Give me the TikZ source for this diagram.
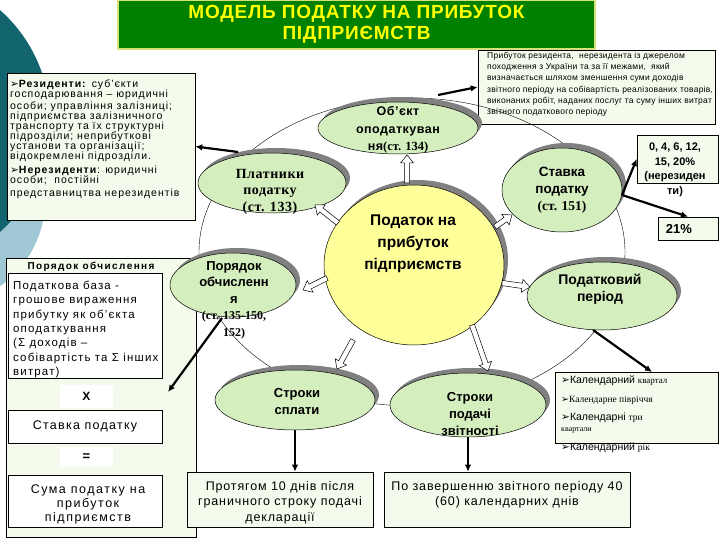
\documentclass[tikz,border=0pt]{standalone}
\usepackage{fontspec}
\setmainfont{Liberation Sans}
\newfontfamily\serif{Liberation Serif}
\newfontfamily\symf{DejaVu Sans}
\usetikzlibrary{shapes.geometric,shadows,calc,arrows.meta}
\definecolor{ellg}{RGB}{212,238,190}
\definecolor{mainy}{RGB}{255,255,153}
\definecolor{boxfill}{RGB}{244,250,236}
\definecolor{titlegreen}{RGB}{0,128,0}
\definecolor{titleborder}{RGB}{215,225,120}
\definecolor{titleyellow}{RGB}{255,255,0}
\definecolor{bgteal}{RGB}{18,100,110}
\definecolor{bglight}{RGB}{160,200,212}
\definecolor{shadowgray}{RGB}{128,128,128}
\newcommand\tickbul{{\symf ➢}}
\newcommand\lsp[1]{\addfontfeature{LetterSpace=#1}}
\newcommand\blockarrow[2]{%
  \coordinate (bap) at ($(#2)!8pt!(#1)$);
  \filldraw[barr] ($(#1)!2.6pt!90:(#2)$) -- ($(bap)!2.6pt!-90:(#1)$) -- ($(bap)!6.5pt!-90:(#1)$) -- (#2) -- ($(bap)!6.5pt!90:(#1)$) -- ($(bap)!2.6pt!90:(#1)$) -- ($(#1)!2.6pt!-90:(#2)$) -- cycle;}
\tikzset{
  ell/.style={ellipse, draw, fill=ellg, inner sep=0, line width=0.5pt,
    drop shadow={shadow xshift=4pt, shadow yshift=5pt, fill=shadowgray, opacity=1}},
  box/.style={draw, fill=boxfill, inner sep=0, line width=0.6pt},
  whitebox/.style={draw, fill=white, inner sep=0, line width=0.6pt},
  blk/.style={line width=2.2pt, -{Latex[length=7pt,width=6.5pt]}},
  barr/.style={draw, fill=white, line width=0.5pt},
  etext/.style={align=center, inner sep=0},
}
\begin{document}
\begin{tikzpicture}[x=1pt,y=-1pt]
\useasboundingbox (0,0) rectangle (720,540);
\begin{scope}
  \clip (0,0) rectangle (720,540);
  \fill[white] (0,0) rectangle (720,540);
  \fill[bglight] (-60,200) circle[radius=105pt];
  \fill[bgteal] (-98,121) circle[radius=148pt];
\end{scope}

% title
\node[draw=titleborder, line width=1.2pt, fill=titlegreen, text=titleyellow,
  minimum width=477pt, minimum height=49pt, align=center, inner sep=0,
  font=\bfseries\fontsize{19}{20.5}\selectfont\lsp{4}] (title) at (356.5,24.5)
  {МОДЕЛЬ ПОДАТКУ НА ПРИБУТОК\\ПІДПРИЄМСТВ};

% top right text box
\node[box, minimum width=237pt, minimum height=74pt] (objbox) at (596.5,87) {};
\node[anchor=north west, inner sep=0, align=left, font=\fontsize{8.5}{11.2}\selectfont\lsp{3}] (objtext) at (487,52)
  {Прибуток резидента, \ нерезидента із джерелом\\походження з України та за її межами, \ який\\визначається шляхом зменшення суми доходів\\звітного періоду на собівартість реалізованих товарів,\\виконаних робіт, наданих послуг та суму інших витрат\\звітного податкового періоду};

% left top box
\node[box, minimum width=188pt, minimum height=147pt] (res) at (101,146.5) {};
\node[anchor=north west, inner sep=0, align=left, font=\fontsize{10.5}{10}\selectfont\lsp{9}] (restext) at (10,80)
  {\tickbul\textbf{Резиденти:} суб'єкти\\господарювання – юридичні\\[2pt]особи; управління залізниці;\\підприємства залізничного\\транспорту та їх структурні\\підрозділи; неприбуткові\\установи та організації;\\відокремлені підрозділи.\\[4pt]\tickbul\textbf{Нерезиденти}: юридичні\\особи; \ постійні\\[3pt]представництва нерезидентів};

% left lower box
\node[box, minimum width=190pt, minimum height=279pt] (calc) at (101,397.5) {};
\node[font=\bfseries\fontsize{10}{12}\selectfont\lsp{14}, inner sep=0] (calctitle) at (91,267) {Порядок обчислення};
\node[whitebox, minimum width=154pt, minimum height=105pt] (base) at (85,325.5) {};
\node[anchor=north west, inner sep=0, align=left, font=\fontsize{11.5}{14.3}\selectfont\lsp{10}] (basetext) at (13,281)
  {Податкова база -\\грошове вираження\\прибутку як об'єкта\\оподаткування\\(Σ доходів –\\собівартість та Σ інших\\витрат)};
\node[fill=white, minimum width=53pt, minimum height=23pt, inner sep=0, font=\bfseries\fontsize{12}{14}\selectfont] (xsign) at (86.5,396.5) {X};
\node[whitebox, minimum width=154pt, minimum height=33pt, font=\fontsize{12.5}{14}\selectfont\lsp{10}] (ratebox) at (85,426.5) {Ставка податку};
\node[fill=white, minimum width=53pt, minimum height=20pt, inner sep=0, font=\bfseries\fontsize{13}{14}\selectfont] (eqsign) at (86.5,457) {=};
\node[whitebox, minimum width=154pt, minimum height=52pt] (sumbox) at (85,501) {};
\node[etext, font=\fontsize{12.5}{14}\selectfont\lsp{12}] (sumtext) at (88,504) {Сума податку на\\прибуток\\підприємств};

% ring
\node[ellipse, draw, line width=0.4pt, minimum width=426pt, minimum height=308pt, inner sep=0] (ring) at (412,252) {};

% ellipses
\node[ell, fill=mainy, minimum width=180pt, minimum height=160pt] (main) at (414,265) {};
\node[ell, minimum width=160pt, minimum height=52pt] (obj) at (398,128) {};
\node[ell, minimum width=148pt, minimum height=60pt] (pay) at (272,183) {};
\node[ell, minimum width=120pt, minimum height=84pt] (rate) at (562,190) {};
\node[ell, minimum width=126pt, minimum height=64pt] (order) at (233,285) {};
\node[ell, minimum width=150pt, minimum height=68pt] (period) at (602,296) {};
\node[ell, minimum width=160pt, minimum height=60pt] (paysched) at (295,400) {};
\node[ell, minimum width=156pt, minimum height=64pt] (report) at (468,405) {};

% right boxes
\node[box, minimum width=81pt, minimum height=48pt] (rates) at (677.5,159) {};
\node[box, minimum width=60pt, minimum height=23pt] (r21) at (688,228.5) {};
\node[box, minimum width=163pt, minimum height=71pt] (cal) at (636.5,407.5) {};
\node[box, minimum width=186pt, minimum height=55pt] (pay10) at (280,499.5) {};
\node[box, minimum width=246pt, minimum height=55pt] (rep40) at (507,499.5) {};

% block arrows
\coordinate (b1s) at (407,183); \coordinate (b1e) at (407,155);
\coordinate (b2s) at (338,223); \coordinate (b2e) at (315,205);
\coordinate (b3s) at (327,278); \coordinate (b3e) at (303,290);
\coordinate (b4s) at (495,227); \coordinate (b4e) at (512,215);
\coordinate (b5s) at (502,283); \coordinate (b5e) at (530,287);
\coordinate (b6s) at (353,340); \coordinate (b6e) at (337,369);
\coordinate (b7s) at (472,325); \coordinate (b7e) at (488,371);
\blockarrow{b1s}{b1e}
\blockarrow{b2s}{b2e}
\blockarrow{b3s}{b3e}
\blockarrow{b4s}{b4e}
\blockarrow{b5s}{b5e}
\blockarrow{b6s}{b6e}
\blockarrow{b7s}{b7e}

% thick arrows
\coordinate (a1s) at (438,95);
\coordinate (a2s) at (238,152);
\coordinate (a3s) at (222,318); \coordinate (a3e) at (168,392);
\coordinate (a4s) at (622,195);
\coordinate (a6s) at (593,330); \coordinate (a6e) at (652,372);
\draw[blk] (a1s) -- (objbox.west);
\draw[blk] (a2s) -- (res.east);
\draw[blk] (a3s) -- (a3e);
\draw[blk] (a4s) -- (rates.west);
\draw[blk] (a4s) -- (r21.north);
\draw[blk] (a6s) -- (a6e);
\draw[blk] (paysched.south) -- (paysched.south |- pay10.north);
\draw[blk] (report.south) -- (report.south |- rep40.north);

% ellipse texts
\node[etext, font=\bfseries\fontsize{15.5}{22}\selectfont] (maint) at (413,244) {Податок на\\прибуток\\підприємств};
\node[etext, font=\bfseries\fontsize{12.5}{17.5}\selectfont\lsp{4}] (objt) at (398,130) {Об’єкт\\оподаткуван\\ня{\serif(ст. 134)}};
\node[etext, font=\serif\bfseries\fontsize{14}{16.5}\selectfont\lsp{4}] (payt) at (270,191.5) {Платники\\податку\\(ст. 133)};
\node[etext, font=\bfseries\fontsize{13.5}{17}\selectfont] (ratet) at (562,190) {Ставка\\податку\\{\serif(ст. 151)}};
\node[etext, font=\bfseries\fontsize{13}{16.5}\selectfont] (ordert) at (234,300) {Порядок\\обчисленн\\я\\{\serif\fontsize{12}{15}\selectfont(ст. 135-150,}\\{\serif\fontsize{12}{15}\selectfont 152)}};
\node[etext, font=\bfseries\fontsize{14}{17}\selectfont] (periodt) at (600,289.5) {Податковий\\період};
\node[etext, font=\bfseries\fontsize{13}{17}\selectfont] (payschedt) at (297,401.5) {Строки\\сплати};
\node[etext, font=\bfseries\fontsize{13}{17}\selectfont] (reportt) at (470,414) {Строки\\подачі\\звітності};

% right box texts
\node[etext, font=\bfseries\fontsize{11}{14.5}\selectfont] (ratest) at (675,170) {0, 4, 6, 12,\\15, 20\%\\(нерезиден\\ти)};
\node[etext, font=\bfseries\fontsize{13}{15}\selectfont] (r21t) at (679,229) {21\%};
\node[anchor=west, inner sep=0, font=\fontsize{10.5}{12}\selectfont] (cal1) at (561,381) {\tickbul Календарний {\serif\fontsize{9}{10}\selectfont квартал}};
\node[anchor=west, inner sep=0, font=\serif\fontsize{9.5}{11}\selectfont] (cal2) at (561,400) {\tickbul Календарне півріччя};
\node[anchor=west, inner sep=0, font=\fontsize{10.5}{12}\selectfont] (cal3) at (561,418) {\tickbul Календарні {\serif\fontsize{9.5}{10}\selectfont три}};
\node[anchor=west, inner sep=0, font=\serif\fontsize{8}{10}\selectfont] (cal4) at (561,430) {квартали};
\node[anchor=west, inner sep=0, font=\fontsize{10.5}{12}\selectfont] (cal5) at (561,448) {\tickbul Календарний {\serif\fontsize{9.5}{10}\selectfont рік}};

% bottom texts
\node[etext, font=\fontsize{12.5}{15.5}\selectfont\lsp{7}] (pay10t) at (280,502.5) {Протягом 10 днів після\\граничного строку подачі\\декларації};
\node[etext, font=\fontsize{12.5}{15}\selectfont\lsp{7}] (rep40t) at (507,494.5) {По завершенню звітного періоду 40\\(60) календарних днів};
\end{tikzpicture}
\end{document}
